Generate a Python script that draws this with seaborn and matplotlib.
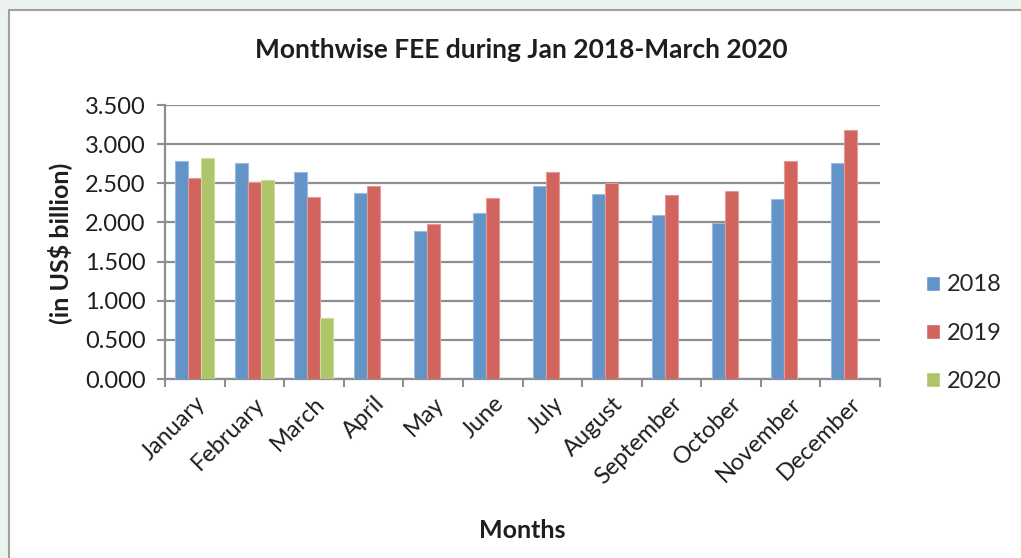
import matplotlib
matplotlib.use("Agg")
import matplotlib.pyplot as plt
import matplotlib.patches as mpatches
import seaborn as sns
import pandas as pd
import numpy as np

months = ["January", "February", "March", "April", "May", "June", "July",
          "August", "September", "October", "November", "December"]
fee_2018 = [2.784, 2.755, 2.648, 2.375, 1.886, 2.120, 2.465, 2.367, 2.099, 1.992, 2.295, 2.755]
fee_2019 = [2.571, 2.516, 2.329, 2.461, 1.975, 2.312, 2.640, 2.499, 2.350, 2.401, 2.780, 3.180]
fee_2020 = [2.826, 2.541, 0.775, None, None, None, None, None, None, None, None, None]
years = ["2018", "2019", "2020"]
colors = ["#6394C8", "#D1645D", "#AEC56A"]
edge_colors = ["#9DBBE0", "#E59994", "#CBDC9E"]

rows = []
for yr, vals in zip(years, [fee_2018, fee_2019, fee_2020]):
    for m, v in zip(months, vals):
        rows.append({"Month": m, "Year": yr, "FEE": np.nan if v is None else v})
df = pd.DataFrame(rows)

sns.set_theme(style="white")
plt.rcParams["font.family"] = ["Lato", "DejaVu Sans"]

fig = plt.figure(figsize=(10.21, 5.58), dpi=100, facecolor="#EAF3EE")
fig.patches.append(mpatches.Rectangle((9 / 1021, -0.1), 1.2, 1 - 10 / 558 + 0.1,
                                      transform=fig.transFigure, facecolor="white",
                                      edgecolor="#A0A0A0", linewidth=1.5, zorder=-10))
ax = fig.add_axes([165 / 1021, 1 - 379 / 558, 715 / 1021, 274 / 558])
ax.set_zorder(1)
ax.set_facecolor("white")

sns.barplot(data=df, x="Month", y="FEE", hue="Year", order=months, hue_order=years,
            palette=colors, width=0.655, gap=0, ax=ax, legend=True, saturation=1)

for cont, ec in zip(ax.containers, edge_colors):
    for bar in cont:
        bar.set_edgecolor(ec)
        bar.set_linewidth(0.8)
        bar.set_zorder(3)

ax.set_ylim(0, 3.5)
ax.set_xlim(-0.5, 11.5)
ax.set_yticks(np.arange(0, 3.51, 0.5))
ax.set_yticklabels([f"{v:.3f}" for v in np.arange(0, 3.51, 0.5)], fontsize=17, color="#1E1E1E")
ax.yaxis.grid(True, color="#8E8E8E", linewidth=1.6, zorder=0)
ax.set_axisbelow(True)
ax.set_xticks(np.arange(-0.5, 12, 1), minor=False)
ax.set_xticklabels([""] * 13)
ax.set_xticks(np.arange(12), minor=True)
ax.set_xticklabels(months, minor=True, rotation=45, ha="right", rotation_mode="anchor",
                   fontsize=17, color="#1E1E1E")
ax.tick_params(axis="x", which="major", direction="out", length=6, width=1.5, color="#8E8E8E", bottom=True)
ax.tick_params(axis="x", which="minor", length=0, pad=10)
ax.tick_params(axis="y", direction="out", length=6, width=1.5, color="#8E8E8E", left=True, pad=8)

for s in ["top", "right"]:
    ax.spines[s].set_visible(False)
for s in ["left", "bottom"]:
    ax.spines[s].set_color("#8E8E8E")
    ax.spines[s].set_linewidth(1.6)

ax.set_xlabel("")
ax.set_ylabel("")
fig.text(60 / 1021, 1 - 243 / 558, "(in US$ billion)", rotation=90, ha="center", va="center",
         fontsize=18, fontweight="bold", color="#1E1E1E")
fig.text(522 / 1021, 1 - 530 / 558, "Months", ha="center", va="center",
         fontsize=18, fontweight="bold", color="#1E1E1E")
fig.text(521 / 1021, 1 - 50 / 558, "Monthwise FEE during Jan 2018-March 2020", ha="center",
         va="center", fontsize=19, fontweight="bold", color="#1E1E1E")

handles, labels = ax.get_legend_handles_labels()
ax.legend(handles, labels, loc="center left", bbox_to_anchor=(926 / 1021, 1 - 333 / 558),
          bbox_transform=fig.transFigure, frameon=False, fontsize=17, handlelength=0.6,
          handleheight=0.6, handletextpad=0.3, labelspacing=1.15, borderpad=0,
          borderaxespad=0)

fig.savefig("out.png", dpi=100, facecolor=fig.get_facecolor())
